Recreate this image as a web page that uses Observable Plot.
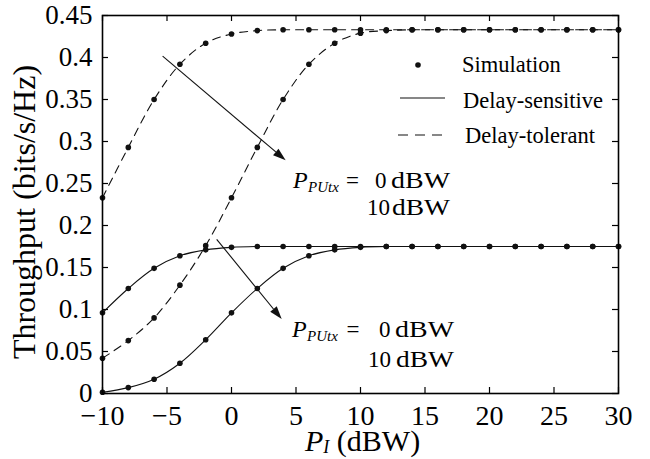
<!DOCTYPE html>
<html>
<head>
<meta charset="utf-8">
<script src="https://cdn.jsdelivr.net/npm/d3@7"></script>
<script src="https://cdn.jsdelivr.net/npm/@observablehq/plot@0.6"></script>
<style>
  html, body { margin: 0; padding: 0; background: #fff; }
</style>
</head>
<body>
<div id="chart"></div>
<script>
// ---- data ----
const powerI = [-10, -8, -6, -4, -2, 0, 2, 4, 6, 8, 10, 12, 14, 16, 18, 20, 22, 24, 26, 28, 30];
const tolerant0  = [0.233, 0.293, 0.350, 0.392, 0.417, 0.428, 0.432, 0.433, 0.433, 0.433, 0.433, 0.433, 0.433, 0.433, 0.433, 0.433, 0.433, 0.433, 0.433, 0.433, 0.433];
const tolerant10 = [0.042, 0.063, 0.090, 0.129, 0.176, 0.233, 0.293, 0.350, 0.392, 0.417, 0.429, 0.432, 0.433, 0.433, 0.433, 0.433, 0.433, 0.433, 0.433, 0.433, 0.433];
const sensitive0  = [0.096, 0.125, 0.149, 0.164, 0.171, 0.174, 0.175, 0.175, 0.175, 0.175, 0.175, 0.175, 0.175, 0.175, 0.175, 0.175, 0.175, 0.175, 0.175, 0.175, 0.175];
const sensitive10 = [0.0015, 0.007, 0.017, 0.036, 0.064, 0.096, 0.125, 0.149, 0.164, 0.171, 0.174, 0.175, 0.175, 0.175, 0.175, 0.175, 0.175, 0.175, 0.175, 0.175, 0.175];
const xTicks = [-10, -5, 0, 5, 10, 15, 20, 25, 30];
const yTicks = [0, 0.05, 0.1, 0.15, 0.2, 0.25, 0.3, 0.35, 0.4, 0.45];
const legendLabels = ["Simulation", "Delay-sensitive", "Delay-tolerant"];
const xLabelParts = ["P", "I", " (dBW)"];
const yLabel = "Throughput (bits/s/Hz)";
const annotationValues = ["0", "10"];
const annotationUnit = "dBW";
// arrows in data units: [x1, y1, x2, y2]
const arrowUpper = [-5.3, 0.401, 4.24, 0.277];
const arrowLower = [-1.11, 0.183, 3.93, 0.088];
// annotation anchors (start of "P", baseline) in data units
const annUpper = [4.81, 0.244];
const annLower = [4.73, 0.0667];

const FONT = "Liberation Serif";

// ---- build table ----
const seriesDefs = [
  {name: "tol0", kind: "tolerant", values: tolerant0},
  {name: "tol10", kind: "tolerant", values: tolerant10},
  {name: "sen0", kind: "sensitive", values: sensitive0},
  {name: "sen10", kind: "sensitive", values: sensitive10}
];
const rows = seriesDefs.flatMap(s => powerI.map((x, i) => ({x, y: s.values[i], series: s.name, kind: s.kind})));

const W = 650, H = 459;
const M = {top: 15, right: 32, bottom: 66, left: 102};
const innerW = W - M.left - M.right;
const innerH = H - M.top - M.bottom;
const TICK = 6;
const fmtX = d => d < 0 ? "\u2212" + (-d) : String(d);
const fmtY = d => String(+d.toFixed(2));

const plot = Plot.plot({
  width: W, height: H,
  marginTop: M.top, marginRight: M.right, marginBottom: M.bottom, marginLeft: M.left,
  style: {fontFamily: FONT, background: "#fff", color: "#000"},
  x: {domain: [-10, 30]},
  y: {domain: [0, 0.45]},
  marks: [
    Plot.line(rows.filter(d => d.kind === "sensitive"), {x: "x", y: "y", z: "series", stroke: "#111", strokeWidth: 1.1, curve: "catmull-rom"}),
    Plot.line(rows.filter(d => d.kind === "tolerant"), {x: "x", y: "y", z: "series", stroke: "#111", strokeWidth: 1.1, strokeDasharray: "8,6", curve: "catmull-rom"}),
    Plot.dot(rows, {x: "x", y: "y", r: 2.8, fill: "#111", stroke: "none"}),
    Plot.tickX(xTicks, {x: d => d, insetTop: innerH - TICK, stroke: "#000", strokeWidth: 1.2}),
    Plot.tickX(xTicks, {x: d => d, insetBottom: innerH - TICK, stroke: "#000", strokeWidth: 1.2}),
    Plot.tickY(yTicks, {y: d => d, insetRight: innerW - TICK, stroke: "#000", strokeWidth: 1.2}),
    Plot.tickY(yTicks, {y: d => d, insetLeft: innerW - TICK, stroke: "#000", strokeWidth: 1.2}),
    Plot.frame({stroke: "#000", strokeWidth: 1.6}),
    Plot.axisX(xTicks, {tickSize: 0, tickPadding: 12, fontSize: 28, tickFormat: fmtX, label: null, fill: "#000", fontFamily: FONT}),
    Plot.axisY(yTicks, {tickSize: 0, tickPadding: 10, fontSize: 27, tickFormat: fmtY, label: null, fill: "#000", fontFamily: FONT})
  ]
});

document.getElementById("chart").appendChild(plot);
const svg = d3.select(plot).attr("font-family", FONT);
svg.selectAll("text").attr("font-family", FONT);

// ---- overlay: arrows, annotations, legend, axis labels ----
const sx = plot.scale("x"), sy = plot.scale("y");
const g = svg.append("g").attr("class", "overlay").attr("fill", "#000")
  .attr("text-anchor", "start").attr("font-family", FONT);

function drawArrow([x1, y1, x2, y2]) {
  const a = [sx.apply(x1), sy.apply(y1)], b = [sx.apply(x2), sy.apply(y2)];
  const ang = Math.atan2(b[1] - a[1], b[0] - a[0]);
  const L = 13, w = 4.2;
  const base = [b[0] - L * Math.cos(ang), b[1] - L * Math.sin(ang)];
  const px = -Math.sin(ang) * w, py = Math.cos(ang) * w;
  g.append("line").attr("x1", a[0]).attr("y1", a[1]).attr("x2", base[0]).attr("y2", base[1])
    .attr("stroke", "#111").attr("stroke-width", 1.1);
  g.append("path").attr("d", `M${b[0]},${b[1]}L${base[0] + px},${base[1] + py}L${base[0] - px},${base[1] - py}Z`).attr("fill", "#111");
}
drawArrow(arrowUpper);
drawArrow(arrowLower);

function txt(parent, x, y, size, s) {
  return parent.append("text").attr("x", x).attr("y", y).attr("font-size", size)
    .attr("text-anchor", "start").attr("font-family", FONT).text(s);
}

function drawAnnotation([ax, ay], shift, line2dy) {
  const x0 = sx.apply(ax), y0 = sy.apply(ay);
  const t = g.append("g");
  txt(t, x0, y0, 24, "P").attr("font-style", "italic");
  txt(t, x0 + 15, y0 + 4, 15, "PUtx").attr("font-style", "italic");
  txt(t, x0 + 53 + shift * 0.3, y0, 23, "=");
  txt(t, x0 + 82 + shift, y0, 23, annotationValues[0]);
  txt(t, x0 + 98 + shift, y0, 24, annotationUnit).attr("textLength", 59).attr("lengthAdjust", "spacingAndGlyphs");
  txt(t, x0 + 74 + shift * 0.4, y0 + line2dy, 23, annotationValues[1]);
  txt(t, x0 + 99 + shift, y0 + line2dy, 24, annotationUnit).attr("textLength", 58).attr("lengthAdjust", "spacingAndGlyphs");
}
drawAnnotation(annUpper, 0, 27);
drawAnnotation(annLower, 5, 30);

// legend (positioned relative to frame's top-right)
const fr = W - M.right;
const leg = g.append("g");
leg.append("circle").attr("cx", fr - 200).attr("cy", 65).attr("r", 2.8).attr("fill", "#111");
leg.append("line").attr("x1", fr - 218).attr("x2", fr - 173).attr("y1", 98).attr("y2", 98).attr("stroke", "#111").attr("stroke-width", 1.2);
leg.append("line").attr("x1", fr - 220).attr("x2", fr - 173).attr("y1", 135).attr("y2", 135).attr("stroke", "#111").attr("stroke-width", 1.2).attr("stroke-dasharray", "10,7");
const legY = [72, 108, 143], legX = [fr - 156, fr - 155, fr - 153];
legendLabels.forEach((s, i) => {
  txt(leg, legX[i], legY[i], 22.5, s);
});

// x-axis label
const xl = txt(g, M.left + 203, H - 8, 30, "");
xl.append("tspan").attr("font-style", "italic").text(xLabelParts[0]);
xl.append("tspan").attr("font-style", "italic").attr("font-size", 18).attr("dy", 2).text(xLabelParts[1]);
xl.append("tspan").attr("dy", -2).text(xLabelParts[2]);

// y-axis label
g.append("text").attr("transform", `translate(${M.left - 67},${(M.top + H - M.bottom) / 2 + 8}) rotate(-90)`)
  .attr("text-anchor", "middle").attr("font-family", FONT).attr("font-size", 32).text(yLabel);
</script>
</body>
</html>
